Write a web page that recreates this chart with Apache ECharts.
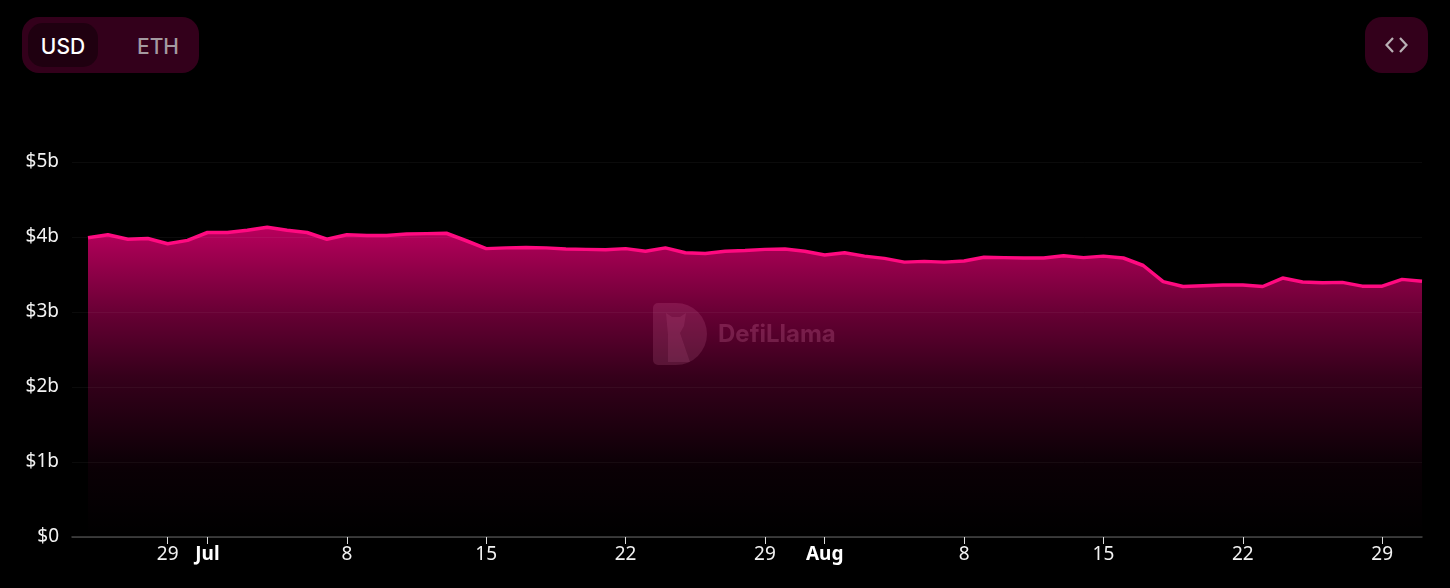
<!DOCTYPE html>
<html>
<head>
<meta charset="utf-8">
<title>TVL</title>
<script src="https://cdn.jsdelivr.net/npm/echarts@6/dist/echarts.min.js"></script>
<style>
html, body { margin: 0; padding: 0; background: #000; }
#chart { position: absolute; left: 0; top: 0; width: 1450px; height: 588px; }
.switch { position: absolute; left: 22px; top: 17px; width: 177px; height: 56px; border-radius: 17px; background: #33001b; font: 500 21px Inter, sans-serif; }
.switch span { position: absolute; top: 6px; height: 44px; line-height: 47px; text-align: center; }
.usd { left: 6px; width: 70px; border-radius: 15px; background: #1f0010; color: #fff; }
.eth { left: 101px; width: 70px; color: #a49aa0; }
.embed { position: absolute; left: 1365px; top: 17px; width: 63px; height: 56px; border-radius: 17px; background: #33001b; }
.embed svg { position: absolute; left: 19px; top: 17px; }
</style>
</head>
<body>
<div id="chart"></div>
<div class="switch"><span class="usd">USD</span><span class="eth">ETH</span></div>
<div class="embed">
    <svg width="25" height="22" viewBox="0 0 25 22" fill="none" stroke="#b9b0b5" stroke-width="2.2">
        <path d="M9 4 L2.5 11 L9 18"/>
        <path d="M16 4 L22.5 11 L16 18"/>
    </svg>
</div>
<script>
// $ billions, one value per day, Jun 25 -> Aug 31
const tvlValues = [
    3.99, 4.03, 3.97, 3.98, 3.91, 3.955, 4.06, 4.06, 4.09, 4.13,
    4.09, 4.06, 3.97, 4.03, 4.02, 4.02, 4.04, 4.045, 4.05, 3.95,
    3.845, 3.855, 3.86, 3.855, 3.84, 3.835, 3.83, 3.845, 3.81, 3.855,
    3.79, 3.78, 3.81, 3.82, 3.835, 3.84, 3.81, 3.76, 3.79, 3.745,
    3.715, 3.665, 3.675, 3.665, 3.68, 3.73, 3.725, 3.72, 3.72, 3.75,
    3.725, 3.745, 3.72, 3.62, 3.405, 3.34, 3.35, 3.36, 3.36, 3.34,
    3.453, 3.40, 3.39, 3.395, 3.345, 3.345, 3.435, 3.41
]

// day index -> label on the x axis
const tickDays = [4, 6, 13, 20, 27, 34, 37, 44, 51, 58, 65]
const tickLabels = ['29', 'Jul', '8', '15', '22', '29', 'Aug', '8', '15', '22', '29']
const yTicks = ['$0', '$1b', '$2b', '$3b', '$4b', '$5b']

const seriesData = tvlValues.map((v, i) => [i, v])

const chart = echarts.init(document.getElementById('chart'))
chart.setOption({
    backgroundColor: '#000',
    animation: false,
    textStyle: { fontFamily: 'Noto Sans' },
    grid: { left: 72, right: 28, top: 162, bottom: 51 },
    xAxis: {
        type: 'value',
        // the grid lines start a bit left of the data
        min: -0.804,
        max: tvlValues.length - 1,
        splitLine: { show: false },
        axisLine: { show: true, lineStyle: { color: '#444', width: 1.5 } },
        axisTick: { show: true, length: 7, lineStyle: { color: '#ddd' }, customValues: tickDays },
        axisLabel: {
            customValues: tickDays,
            hideOverlap: false,
            color: '#f2f2f2',
            fontSize: 19,
            margin: 8,
            formatter: value => {
                const label = tickLabels[tickDays.indexOf(value)]
                return label === 'Jul' || label === 'Aug' ? '{month|' + label + '}' : label
            },
            rich: {
                month: { fontWeight: 'bold', fontSize: 19, color: '#fff', fontFamily: 'Noto Sans' }
            }
        }
    },
    yAxis: {
        type: 'value',
        min: 0,
        max: 5,
        interval: 1,
        z: 3,
        axisLine: { show: false },
        axisTick: { show: false },
        splitLine: { lineStyle: { color: 'rgba(255,255,255,0.045)' } },
        axisLabel: {
            color: '#f2f2f2',
            fontSize: 19,
            margin: 13,
            padding: [0, 0, 4, 0],
            formatter: value => yTicks[value]
        }
    },
    series: [
        {
            type: 'line',
            data: seriesData,
            showSymbol: false,
            z: 2,
            lineStyle: { color: '#ff0a80', width: 3.5 },
            areaStyle: {
                // default area opacity is 0.7, the alpha is in the stops here
                opacity: 1,
                color: new echarts.graphic.LinearGradient(0, 0, 0, 1, [
                    { offset: 0, color: 'rgba(255,0,128,0.72)' },
                    { offset: 0.3, color: 'rgba(255,0,128,0.38)' },
                    { offset: 0.48, color: 'rgba(255,0,128,0.21)' },
                    { offset: 0.78, color: 'rgba(255,0,128,0.04)' },
                    { offset: 1, color: 'rgba(255,0,128,0)' }
                ])
            }
        }
    ],
    // watermark
    graphic: [
        {
            type: 'rect',
            shape: { x: 653, y: 303, width: 54, height: 62, r: [5, 31, 31, 5] },
            style: { fill: 'rgba(255,150,200,0.14)' },
            z: 10
        },
        {
            type: 'polygon',
            shape: {
                points: [[666, 313], [672, 317], [680, 317], [686, 313], [684, 326], [680, 333], [690, 362], [668, 362], [668, 335]]
            },
            style: { fill: 'rgba(255,150,200,0.1)' },
            z: 10
        },
        {
            type: 'text',
            left: 718,
            top: 323,
            style: {
                text: 'DefiLlama',
                fill: 'rgba(255,150,200,0.2)',
                font: 'bold 24px Inter'
            },
            z: 10
        }
    ]
})
</script>
</body>
</html>
